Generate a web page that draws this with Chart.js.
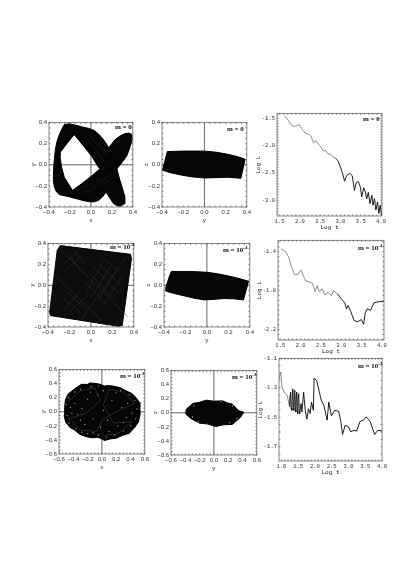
<!DOCTYPE html>
<html>
<head>
<meta charset="utf-8">
<script src="https://cdn.jsdelivr.net/npm/chart.js@4"></script>
<style>
  html, body { margin: 0; background: #fff; }
  body { position: relative; width: 413px; height: 584px; overflow: hidden; }
  canvas { position: absolute; filter: blur(0.35px); }
  .tag { position: absolute; font: bold 7px "Liberation Serif", serif; color: #111; white-space: nowrap; line-height: 8px; }
  .tag sup { font-size: 5px; line-height: 0; }
</style>
</head>
<body>
<script>
// tick labels
const ticks04 = [-0.4, -0.2, 0, 0.2, 0.4];
const ticks06 = [-0.6, -0.4, -0.2, 0, 0.2, 0.4, 0.6];
const logT15 = [1.5, 2, 2.5, 3, 3.5, 4];
const logT10 = [1, 1.5, 2, 2.5, 3, 3.5, 4];
const logL0 = [-1.5, -2, -2.5, -3];
const logL4 = [-1.4, -1.8, -2.2];
const logL3 = [-1.1, -1.3, -1.5, -1.7];

// m = 0, x-y orbit: outer edge then the hole, walked the other way round
const fishEdge = [[-0.254,0.38],[-0.207,0.39],[-0.145,0.375],[-0.08,0.358],[-0.02,0.345],[0.028,0.327],[0.07,0.295],[0.107,0.255],[0.14,0.21],[0.17,0.162],[0.2,0.2],[0.232,0.24],[0.28,0.275],[0.326,0.296],[0.365,0.3],[0.39,0.287],[0.395,0.24],[0.37,0.16],[0.342,0.084],[0.295,0.02],[0.248,-0.04],[0.275,-0.14],[0.3,-0.22],[0.32,-0.29],[0.325,-0.335],[0.32,-0.368],[0.28,-0.393],[0.245,-0.385],[0.216,-0.368],[0.18,-0.315],[0.144,-0.259],[0.11,-0.305],[0.075,-0.336],[0.035,-0.35],[-0.003,-0.352],[-0.07,-0.34],[-0.144,-0.32],[-0.22,-0.3],[-0.3,-0.283],[-0.33,-0.255],[-0.348,-0.212],[-0.358,-0.16],[-0.358,-0.103],[-0.352,0.02],[-0.339,0.146],[-0.325,0.215],[-0.307,0.271],[-0.28,0.335],[-0.254,0.38],
  [-0.16,0.287],[-0.23,0.2],[-0.295,0.115],[-0.295,0.084],[-0.28,-0.02],[-0.254,-0.118],[-0.215,-0.18],[-0.176,-0.243],[-0.11,-0.195],[-0.05,-0.15],[0.02,-0.095],[0.085,-0.04],[0.045,0.02],[0.006,0.084],[-0.08,0.19],[-0.16,0.287],[-0.254,0.38]];
const fishStreaks = [[-0.066,0.287],[0.122,0.037],[null,null],[-0.019,0.287],[0.144,0.084],[null,null],[0.028,0.255],[0.16,0.1],[null,null],[-0.097,-0.283],[0.2,-0.087],[null,null],[-0.034,-0.265],[0.216,-0.118],[null,null],[-0.2,-0.27],[0.12,-0.12]];
const yzEdge0 = [[-0.35,0.125],[-0.2,0.13],[0,0.13],[0.12,0.118],[0.219,0.1],[0.31,0.078],[0.384,0.053],[0.344,-0.128],[0.219,-0.118],[0.1,-0.122],[0,-0.125],[-0.11,-0.115],[-0.219,-0.097],[-0.32,-0.075],[-0.4,-0.05],[-0.39,-0.03],[-0.35,0.125]];
const logCurve0 = [[1.622,-1.452],[1.703,-1.53],[1.785,-1.62],[1.866,-1.65],[1.931,-1.632],[1.988,-1.62],[2.045,-1.692],[2.126,-1.77],[2.232,-1.8],[2.272,-1.83],[2.337,-1.95],[2.394,-1.908],[2.476,-1.992],[2.533,-2.04],[2.581,-2.1],[2.638,-2.088],[2.695,-2.16],[2.744,-2.148],[2.801,-2.202],[2.882,-2.232],[2.939,-2.28],[2.988,-2.37],[3.045,-2.49],[3.102,-2.652],[3.15,-2.55],[3.232,-2.508],[3.289,-2.55],[3.346,-2.82],[3.394,-2.67],[3.443,-2.658],[3.492,-2.76],[3.524,-2.94],[3.573,-2.772],[3.614,-2.85],[3.646,-2.976],[3.687,-2.856],[3.728,-3.06],[3.776,-2.91],[3.801,-3.09],[3.841,-2.97],[3.874,-3.18],[3.915,-3.03],[3.947,-3.24],[3.98,-3.09],[4.012,-3.27]];

// m = 10^-4
const squareEdge = [[-0.286,0.381],[0.369,0.297],[0.378,0.256],[0.292,-0.384],[0.26,-0.394],[-0.378,-0.29],[-0.385,-0.26],[-0.314,0.334],[-0.286,0.381]];
const squareWeave = [[-0.02,0.12],[0.2,-0.12],[null,null],[0.02,0.18],[0.26,-0.08],[null,null],[0.08,0.2],[0.3,-0.02],[null,null],[-0.06,0.04],[0.14,-0.18],[null,null],[0,-0.12],[0.18,0.18],[null,null],[0.06,-0.16],[0.24,0.14],[null,null],[0.12,-0.18],[0.3,0.1],[null,null],[-0.04,-0.06],[0.1,0.2],[null,null],[-0.26,0.2],[-0.12,0.32],[null,null],[-0.24,0.14],[-0.08,0.28],[null,null],[-0.22,0.32],[-0.1,0.14],[null,null],[-0.16,0.34],[-0.06,0.2],[null,null],[-0.26,-0.24],[-0.12,-0.08],[null,null],[-0.2,-0.26],[-0.06,-0.12],[null,null],[-0.26,-0.12],[-0.1,-0.26],[null,null],[-0.22,-0.06],[-0.06,-0.22],[null,null],[0.1,0.27],[0.26,0.14],[null,null],[-0.3,0.36],[0.34,-0.3],[null,null],[-0.34,0.1],[0.1,-0.34],[null,null],[0.32,0.26],[-0.1,-0.34]];
const yzEdge4 = [[-0.332,0.133],[-0.193,0.133],[-0.09,0.13],[0.008,0.124],[0.1,0.11],[0.193,0.092],[0.29,0.068],[0.388,0.039],[0.341,-0.14],[0.25,-0.13],[0.162,-0.127],[0.07,-0.135],[-0.023,-0.14],[-0.115,-0.125],[-0.208,-0.102],[-0.3,-0.08],[-0.384,-0.055],[-0.384,-0.023],[-0.355,0.07],[-0.332,0.133]];
const logCurve4 = [[1.516,-1.369],[1.622,-1.393],[1.703,-1.451],[1.768,-1.546],[1.85,-1.637],[1.931,-1.631],[2.012,-1.586],[2.069,-1.647],[2.126,-1.698],[2.232,-1.715],[2.289,-1.722],[2.354,-1.81],[2.411,-1.749],[2.451,-1.81],[2.533,-1.783],[2.598,-1.844],[2.679,-1.817],[2.76,-1.851],[2.809,-1.8],[2.907,-1.834],[3.004,-1.885],[3.085,-1.925],[3.126,-1.986],[3.167,-1.953],[3.232,-2.014],[3.313,-2.105],[3.394,-2.122],[3.492,-2.098],[3.549,-2.146],[3.589,-2.027],[3.638,-1.986],[3.72,-2.003],[3.801,-1.925],[3.939,-1.912],[4.045,-1.912]];

// m = 10^-3
const lobesEdge = [[-0.289,0.39],[-0.2,0.39],[-0.17,0.41],[-0.104,0.405],[-0.04,0.395],[0.035,0.367],[0.09,0.375],[0.15,0.367],[0.25,0.345],[0.336,0.298],[0.42,0.26],[0.475,0.205],[0.52,0.14],[0.53,0.065],[0.535,-0.03],[0.511,-0.144],[0.46,-0.22],[0.382,-0.307],[0.29,-0.335],[0.197,-0.377],[0.12,-0.385],[0.035,-0.409],[-0.01,-0.38],[-0.058,-0.363],[-0.14,-0.37],[-0.22,-0.353],[-0.31,-0.32],[-0.382,-0.26],[-0.45,-0.22],[-0.507,-0.144],[-0.53,-0.05],[-0.521,0.065],[-0.51,0.17],[-0.475,0.251],[-0.39,0.32],[-0.289,0.39]];
const lobesSpecks = [[-0.47,0.2],[-0.5,0.1],[-0.49,-0.05],[-0.46,-0.16],[-0.38,0.28],[-0.3,0.32],[-0.36,-0.24],[-0.28,-0.29],[-0.2,-0.31],[-0.12,-0.3],[-0.02,-0.22],[-0.05,-0.33],[0.06,-0.36],[0.18,-0.33],[0.3,-0.27],[0.4,-0.2],[0.47,-0.1],[0.49,0.04],[0.46,0.16],[0.38,0.24],[0.26,0.3],[-0.15,0.36],[-0.05,0.37],[-0.38,0.12],[-0.42,-0.02],[-0.3,-0.12],[-0.2,0.18],[-0.12,-0.1],[0.02,0.02],[0.08,-0.12],[0.14,0.16],[0.28,0.06],[0.34,-0.08],[-0.06,0.24],[0.02,0.3],[-0.28,0.05],[0.22,-0.2],[0.36,0.12],[-0.44,0.06],[-0.34,-0.04],[-0.24,-0.18],[-0.16,0.28],[0.1,-0.28],[0.42,-0.02],[0.2,0.27],[0.3,-0.15]];
const lobesWeave = [[-0.48,0.14],[-0.3,0.3],[-0.1,0.34],[-0.02,0.16],[-0.22,-0.02],[-0.46,-0.1],[-0.3,-0.26],[-0.08,-0.28],[0.02,-0.1],[0.24,0.02],[0.46,0.12],[0.3,0.28],[0.1,0.32],[0.02,0.1],[0.16,-0.16],[0.42,-0.14],[0.24,-0.3],[0.04,-0.34]];
const blobEdge = [[-0.385,0.054],[-0.33,0.1],[-0.294,0.133],[-0.2,0.15],[-0.11,0.18],[0,0.165],[0.119,0.17],[0.19,0.14],[0.257,0.124],[0.31,0.07],[0.349,0.03],[0.417,0.007],[0.372,-0.063],[0.31,-0.12],[0.257,-0.166],[0.14,-0.17],[0.028,-0.194],[-0.09,-0.16],[-0.202,-0.147],[-0.26,-0.115],[-0.317,-0.086],[-0.395,-0.016],[-0.385,0.054]];
const blobSpecks = [[-0.28,0.1],[-0.22,-0.13],[0.26,0.1],[0.32,-0.08],[0.1,0.16],[-0.1,-0.16],[0.22,-0.14],[-0.3,-0.06]];
const logCurve3 = [[0.932,-1.239],[0.981,-1.194],[1.019,-1.296],[1.097,-1.334],[1.175,-1.352],[1.244,-1.43],[1.258,-1.35],[1.273,-1.329],[1.29,-1.44],[1.312,-1.453],[1.326,-1.33],[1.341,-1.307],[1.355,-1.44],[1.37,-1.453],[1.385,-1.33],[1.4,-1.318],[1.415,-1.45],[1.429,-1.464],[1.444,-1.34],[1.458,-1.329],[1.472,-1.46],[1.487,-1.475],[1.502,-1.35],[1.517,-1.34],[1.532,-1.46],[1.546,-1.475],[1.585,-1.408],[1.614,-1.464],[1.663,-1.329],[1.712,-1.453],[1.76,-1.513],[1.809,-1.442],[1.858,-1.475],[1.897,-1.397],[1.955,-1.453],[1.975,-1.235],[2.053,-1.251],[2.121,-1.318],[2.189,-1.385],[2.267,-1.419],[2.365,-1.52],[2.413,-1.397],[2.491,-1.491],[2.589,-1.453],[2.706,-1.46],[2.774,-1.531],[2.823,-1.617],[2.901,-1.554],[2.998,-1.565],[3.066,-1.599],[3.164,-1.588],[3.242,-1.594],[3.339,-1.531],[3.437,-1.52],[3.534,-1.498],[3.651,-1.531],[3.778,-1.617],[3.875,-1.588],[4.002,-1.594]];

const pts = a => a.map(p => ({ x: p[0], y: p[1] }));

// little in-frame tick marks on all four sides, plus the frame
const frame = {
  id: "frame",
  afterDraw(chart, args, opts) {
    const { ctx, chartArea: a, scales: { x, y } } = chart;
    ctx.save();
    ctx.strokeStyle = "#555";
    ctx.lineWidth = 0.7;
    ctx.strokeRect(a.left, a.top, a.width, a.height);
    ctx.beginPath();
    for (let k = Math.ceil(x.min / opts.xStep - 1e-6); k * opts.xStep <= x.max + 1e-6; k++) {
      const px = x.getPixelForValue(k * opts.xStep);
      ctx.moveTo(px, a.top); ctx.lineTo(px, a.top + 1.5);
      ctx.moveTo(px, a.bottom); ctx.lineTo(px, a.bottom - 1.5);
    }
    for (let k = Math.ceil(y.min / opts.yStep - 1e-6); k * opts.yStep <= y.max + 1e-6; k++) {
      const py = y.getPixelForValue(k * opts.yStep);
      ctx.moveTo(a.left, py); ctx.lineTo(a.left + 1.5, py);
      ctx.moveTo(a.right, py); ctx.lineTo(a.right - 1.5, py);
    }
    ctx.stroke();
    ctx.restore();
  }
};

function orbit(pointsArr, fillColor) {
  return { data: pts(pointsArr), showLine: true, fill: "shape", backgroundColor: fillColor || "#050505", borderColor: "#000", borderWidth: 1, pointRadius: 0, order: 2 };
}
function thread(pointsArr, color) {
  return { data: pts(pointsArr), showLine: true, fill: false, borderColor: color, borderWidth: 0.45, pointRadius: 0, order: 1 };
}
function specks(pointsArr) {
  return { data: pts(pointsArr), showLine: false, pointRadius: 0.65, pointBorderWidth: 0, pointBackgroundColor: "#aaa", order: 1 };
}
function cross(lim) {
  return [
    { data: [{ x: -lim, y: 0 }, { x: lim, y: 0 }], showLine: true, borderColor: "#666", borderWidth: 1, pointRadius: 0, order: 3 },
    { data: [{ x: 0, y: -lim }, { x: 0, y: lim }], showLine: true, borderColor: "#666", borderWidth: 1, pointRadius: 0, order: 3 }
  ];
}
// thin grey early part, heavier once the oscillations pack together
function curve(pointsArr, thickFrom) {
  const early = pointsArr.filter(p => p[0] <= thickFrom);
  const late = pointsArr.filter(p => p[0] >= thickFrom);
  return [
    { data: pts(early), showLine: true, borderColor: "#444", borderWidth: 0.6, pointRadius: 0 },
    { data: pts(late), showLine: true, borderColor: "#111", borderWidth: 0.95, pointRadius: 0 }
  ];
}

const panels = [
  { box: [49,121,85,86], lim: [-0.4,0.4,-0.4,0.4], xt: ticks04, yt: ticks04, xl: "x", yl: "y", tag: "m = 0", at: [115,123], sets: [...cross(0.4), orbit(fishEdge), thread(fishStreaks, "#2a2a2a")] },
  { box: [162,121,86,86], lim: [-0.4,0.4,-0.4,0.4], xt: ticks04, yt: ticks04, xl: "y", yl: "z", tag: "m = 0", at: [227,125], sets: [...cross(0.4), orbit(yzEdge0)] },
  { box: [277,112,106,104], lim: [1.435,4.024,-3.288,-1.41], xt: logT15, yt: logL0, xl: "Log t", yl: "Log L", tag: "m = 0", at: [363,115], log: true, sets: curve(logCurve0, 2.882) },
  { box: [48,242,87,85], lim: [-0.4,0.4,-0.4,0.4], xt: ticks04, yt: ticks04, xl: "x", yl: "y", tag: "m = 10<sup>-4</sup>", at: [110,243], sets: [...cross(0.4), orbit(squareEdge, "#0c0c0c"), thread(squareWeave, "#3a3a3a")] },
  { box: [164,242,87,85], lim: [-0.4,0.4,-0.4,0.4], xt: ticks04, yt: ticks04, xl: "y", yl: "z", tag: "m = 10<sup>-4</sup>", at: [223,246], sets: [...cross(0.4), orbit(yzEdge4)] },
  { box: [278,239,106,101], lim: [1.443,4.05,-2.308,-1.281], xt: logT15, yt: logL4, xl: "Log t", yl: "Log L", tag: "m = 10<sup>-4</sup>", at: [358,244], log: true, sets: curve(logCurve4, 2.907) },
  { box: [59,368,87,86], lim: [-0.6,0.6,-0.6,0.6], xt: ticks06, yt: ticks06, xl: "x", yl: "y", tag: "m = 10<sup>-3</sup>", at: [120,372], sets: [...cross(0.6), orbit(lobesEdge), thread(lobesWeave, "#555"), specks(lobesSpecks)] },
  { box: [171,369,87,86], lim: [-0.6,0.6,-0.6,0.6], xt: ticks06, yt: ticks06, xl: "y", yl: "z", tag: "m = 10<sup>-3</sup>", at: [232,373], sets: [...cross(0.6), orbit(blobEdge), specks(blobSpecks)] },
  { box: [279,357,105,104], lim: [0.93,4.0,-1.797,-1.1], xt: logT10, yt: logL3, xl: "Log t", yl: "Log L", tag: "m = 10<sup>-3</sup>", at: [358,362], log: true, sets: curve(logCurve3, 1.244) }
];

const marginT = 4, marginR = 5;

panels.forEach(p => {
  const [bx, by, bw, bh] = p.box;
  const marginL = p.log ? 22 : 19;
  const marginB = p.log ? 15 : 17;
  const cv = document.createElement("canvas");
  cv.width = bw + marginL + marginR;
  cv.height = bh + marginT + marginB;
  cv.style.left = (bx - marginL) + "px";
  cv.style.top = (by - marginT) + "px";
  document.body.appendChild(cv);

  const tickFont = p.log ? { family: "'Liberation Mono', monospace", size: 5.5 } : { family: "'Liberation Sans', sans-serif", size: 6 };
  const fmt = v => p.log ? v.toFixed(1) : v.toFixed(1).replace("-", "\u2212");
  const titleFont = { family: "'Liberation Mono', monospace", size: 6 };

  new Chart(cv, {
    type: "scatter",
    data: { datasets: p.sets },
    plugins: [frame],
    options: {
      responsive: false,
      animation: false,
      layout: { padding: { top: marginT, right: marginR, left: 0, bottom: 0 } },
      plugins: {
        legend: { display: false },
        tooltip: { enabled: false },
        frame: { xStep: p.log ? 0.1 : 0.05, yStep: 0.05 }
      },
      scales: {
        x: {
          type: "linear", min: p.lim[0], max: p.lim[1],
          grid: { display: false, drawTicks: false }, border: { display: false },
          afterBuildTicks: s => { s.ticks = p.xt.map(v => ({ value: v })); },
          afterFit: s => { s.height = marginB; },
          ticks: { autoSkip: false, maxRotation: 0, padding: 2, color: "#333", font: tickFont, callback: fmt },
          title: { display: true, text: p.xl, color: "#222", font: titleFont, padding: 0 }
        },
        y: {
          type: "linear", min: p.lim[2], max: p.lim[3],
          grid: { display: false, drawTicks: false }, border: { display: false },
          afterBuildTicks: s => { s.ticks = p.yt.map(v => ({ value: v })); },
          afterFit: s => { s.width = marginL; },
          ticks: { autoSkip: false, padding: 2, color: "#333", font: tickFont, callback: fmt },
          title: { display: true, text: p.yl, color: "#222", font: titleFont, padding: 0 }
        }
      }
    }
  });

  const t = document.createElement("div");
  t.className = "tag";
  t.innerHTML = p.tag;
  t.style.left = p.at[0] + "px";
  t.style.top = p.at[1] + "px";
  document.body.appendChild(t);
});
</script>
</body>
</html>
